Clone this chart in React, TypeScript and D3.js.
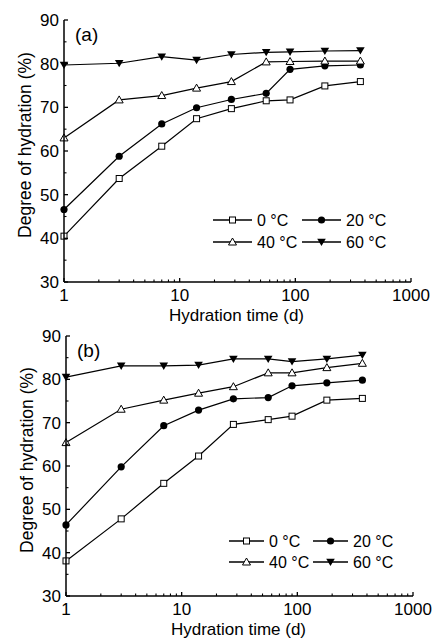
import * as d3 from 'd3';

const days = [1, 3, 7, 14, 28, 56, 90, 180, 365];
const seriesNames = ['0 °C', '20 °C', '40 °C', '60 °C'];

const panelA = [
  [40.5, 53.7, 61.1, 67.4, 69.7, 71.5, 71.7, 74.9, 75.9],
  [46.6, 58.8, 66.2, 69.9, 71.8, 73.2, 78.7, 79.5, 79.7],
  [63.0, 71.7, 72.7, 74.4, 75.9, 80.4, 80.5, 80.6, 80.6],
  [79.7, 80.1, 81.6, 80.8, 82.1, 82.6, 82.7, 82.9, 83.0],
];

const panelB = [
  [38.1, 47.8, 56.0, 62.3, 69.6, 70.7, 71.5, 75.2, 75.6],
  [46.4, 59.8, 69.3, 72.9, 75.5, 75.8, 78.5, 79.2, 79.8],
  [65.4, 73.1, 75.2, 76.8, 78.3, 81.5, 81.5, 82.7, 83.7],
  [80.5, 83.1, 83.1, 83.3, 84.7, 84.7, 84.1, 84.7, 85.6],
];

const yTicks = [30, 40, 50, 60, 70, 80, 90];
const xTicks = [1, 10, 100, 1000];

const font = '"Liberation Sans", Arial, sans-serif';

function Marker({ kind, x, y }: { kind: number; x: number; y: number }) {
  if (kind === 0) {
    return <rect x={x - 3} y={y - 3} width={6} height={6} fill="#fff" stroke="#000" strokeWidth={1} />;
  }
  if (kind === 1) {
    return <circle cx={x} cy={y} r={3.6} fill="#000" />;
  }
  if (kind === 2) {
    const p = d3.path();
    p.moveTo(x, y - 4);
    p.lineTo(x + 4, y + 3);
    p.lineTo(x - 4, y + 3);
    p.closePath();
    return <path d={p.toString()} fill="#fff" stroke="#000" strokeWidth={1} />;
  }
  const p = d3.path();
  p.moveTo(x, y + 4);
  p.lineTo(x + 4.3, y - 3.3);
  p.lineTo(x - 4.3, y - 3.3);
  p.closePath();
  return <path d={p.toString()} fill="#000" />;
}

interface PanelProps {
  data: number[][];
  label: string;
  left: number;
  right: number;
  top: number;
  bottom: number;
  legend: { x: number[]; y: number[]; len: number };
}

function Panel({ data, label, left, right, top, bottom, legend }: PanelProps) {
  const x = d3.scaleLog().domain([1, 1000]).range([left, right]);
  const y = d3.scaleLinear().domain([30, 90]).range([bottom, top]);
  const line = d3
    .line<number>()
    .x((_, i) => x(days[i]))
    .y((d) => y(d));

  const minorX: number[] = [];
  for (let dec = 1; dec < 1000; dec *= 10) {
    for (let k = 2; k <= 9; k++) minorX.push(dec * k);
  }
  const minorY = d3.range(35, 90, 10);

  return (
    <g>
      {data.map((s, i) => (
        <path key={'l' + i} d={line(s) ?? ''} fill="none" stroke="#000" strokeWidth={1.2} />
      ))}
      {data.map((s, i) =>
        s.map((v, j) => <Marker key={`m${i}-${j}`} kind={i} x={x(days[j])} y={y(v)} />)
      )}

      <line x1={left} x2={right} y1={bottom} y2={bottom} stroke="#000" strokeWidth={1.5} />
      <line x1={left} x2={left} y1={top} y2={bottom} stroke="#000" strokeWidth={1.5} />
      {xTicks.map((t) => (
        <g key={'xt' + t}>
          <line x1={x(t)} x2={x(t)} y1={bottom} y2={bottom - 4} stroke="#000" strokeWidth={1.3} />
          <text x={x(t)} y={bottom + 19} textAnchor="middle" fontSize={17} fontFamily={font}>
            {t}
          </text>
        </g>
      ))}
      {minorX.map((t) => (
        <line key={'xm' + t} x1={x(t)} x2={x(t)} y1={bottom} y2={bottom - 2.5} stroke="#000" strokeWidth={1.1} />
      ))}
      {yTicks.map((t) => (
        <g key={'yt' + t}>
          <line x1={left} x2={left + 4} y1={y(t)} y2={y(t)} stroke="#000" strokeWidth={1.3} />
          <text x={left - 5} y={y(t) + 6} textAnchor="end" fontSize={17} fontFamily={font}>
            {t}
          </text>
        </g>
      ))}
      {minorY.map((t) => (
        <line key={'ym' + t} x1={left} x2={left + 2.5} y1={y(t)} y2={y(t)} stroke="#000" strokeWidth={1.1} />
      ))}

      <text x={left + 11} y={top + 21} fontSize={19} fontFamily={font}>
        {label}
      </text>
      <text
        transform={`translate(${left - 33},${(top + bottom) / 2 - 6}) rotate(-90)`}
        textAnchor="middle"
        fontSize={17.5}
        fontFamily={font}
      >
        Degree of hydration (%)
      </text>
      <text x={(left + right) / 2 - 1} y={bottom + 39} textAnchor="middle" fontSize={17} fontFamily={font}>
        Hydration time (d)
      </text>

      {seriesNames.map((name, i) => {
        const lx = legend.x[i % 2];
        const ly = legend.y[Math.floor(i / 2)];
        return (
          <g key={'lg' + i}>
            <line x1={lx} x2={lx + legend.len} y1={ly} y2={ly} stroke="#000" strokeWidth={1.3} />
            <Marker kind={i} x={lx + legend.len / 2} y={ly} />
            <text x={lx + legend.len + 5} y={ly + 6} fontSize={16} fontFamily={font}>
              {name}
            </text>
          </g>
        );
      })}
    </g>
  );
}

export default function App() {
  return (
    <svg
      width={433}
      height={639}
      style={{ position: 'absolute', left: 0, top: 0, background: '#fff' }}
    >
      <Panel
        data={panelA}
        label="(a)"
        left={64}
        right={411}
        top={20}
        bottom={282}
        legend={{ x: [213, 302], y: [220, 242], len: 39 }}
      />
      <Panel
        data={panelB}
        label="(b)"
        left={66}
        right={413}
        top={336}
        bottom={596}
        legend={{ x: [229, 313], y: [541, 562], len: 35 }}
      />
    </svg>
  );
}
